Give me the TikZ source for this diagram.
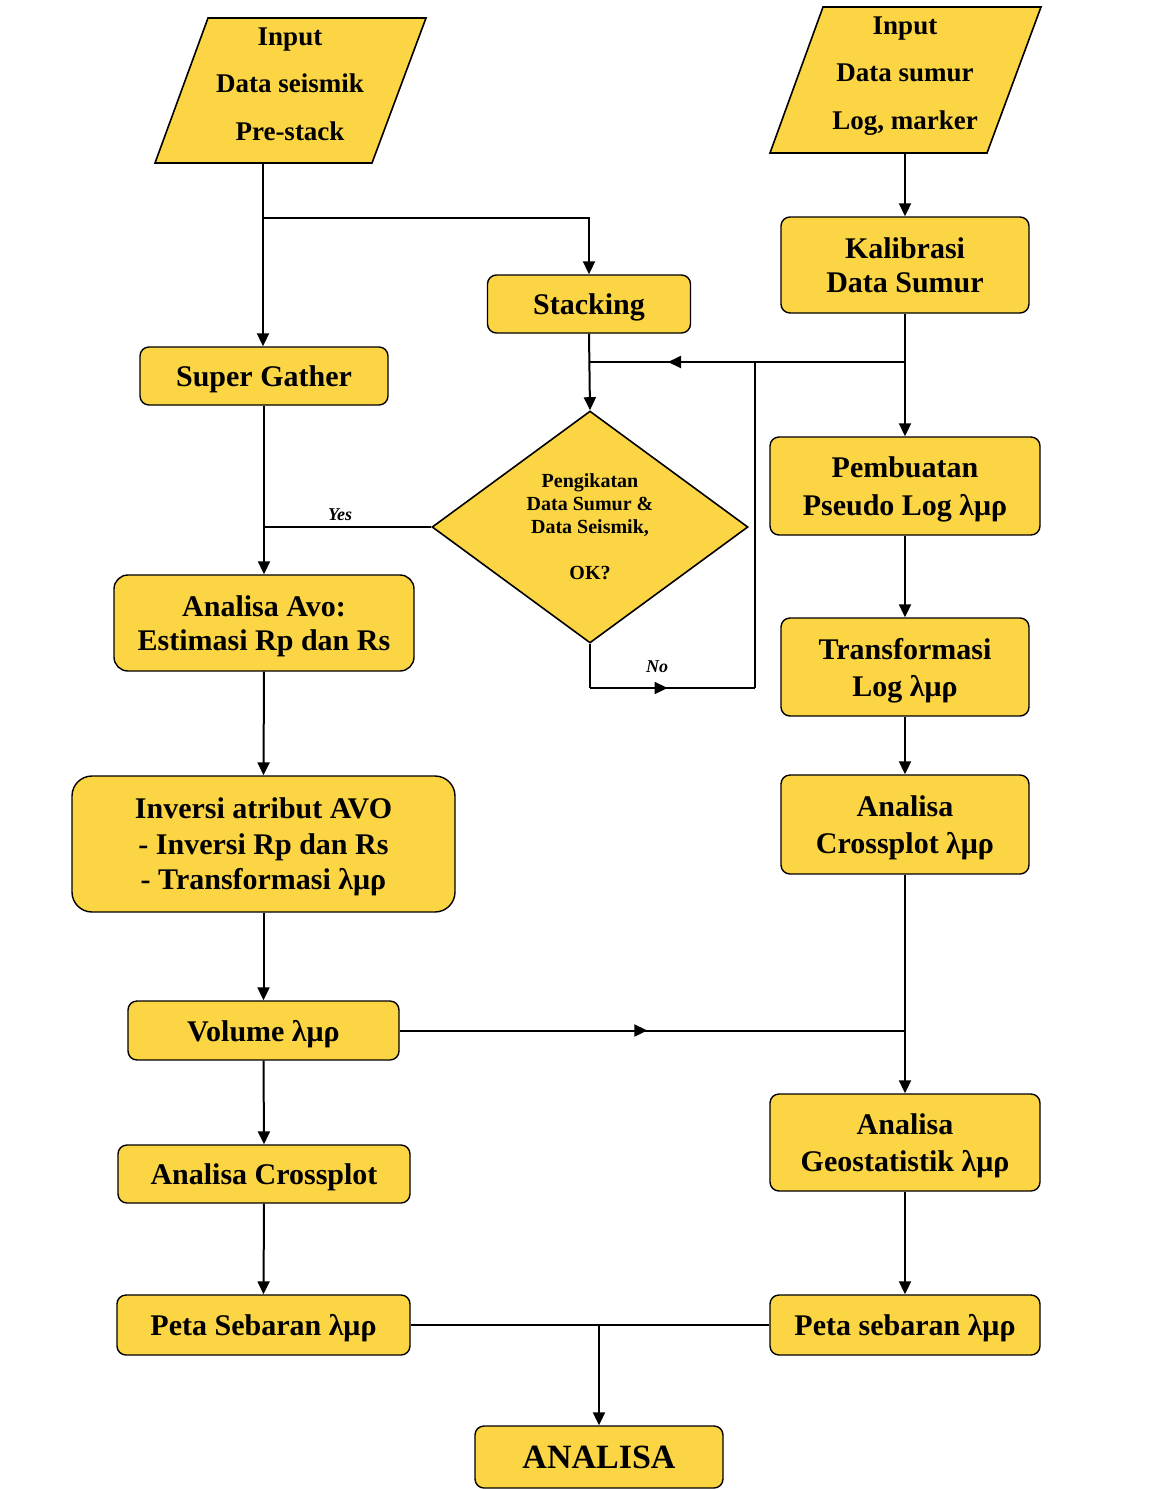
\documentclass[tikz,border=0pt]{standalone}
\usepackage{fontspec}
\setmainfont{Liberation Serif}
\usetikzlibrary{arrows.meta,decorations.markings,shapes.geometric}
\definecolor{boxyellow}{RGB}{252,213,68}
\begin{document}
\begin{tikzpicture}[x=1pt,y=-1pt,
 box/.style={draw=black, line width=1.4pt, fill=boxyellow, rounded corners=9pt, align=center, inner sep=0pt, text depth=0pt, font=\fontsize{30}{36}\selectfont\bfseries},
 ptext/.style={align=center, inner sep=0pt, text depth=0pt, font=\fontsize{27}{47.5}\selectfont\bfseries},
 conn/.style={line width=2pt, -{Triangle[length=13pt,width=12pt]}},
 plain/.style={line width=2pt},
 midarrow/.style={line width=2pt, postaction={decorate}, decoration={markings, mark=at position #1 with {\arrow{Triangle[length=13pt,width=12pt]}}}},
 midarrow/.default=0.5,
 lbl/.style={font=\fontsize{18}{20}\selectfont\bfseries\itshape, inner sep=0pt}
]
\useasboundingbox (0,0) rectangle (1156,1489);

% input parallelograms
\draw[line width=1.6pt, fill=boxyellow] (208,18) -- (426,18) -- (372,163) -- (155,163) -- cycle;
\node[ptext] (in1) at (290,84) {Input\\Data seismik\\Pre-stack};
\draw[line width=1.6pt, fill=boxyellow] (823,7) -- (1041,7) -- (987,153) -- (770,153) -- cycle;
\node[ptext] (in2) at (905,73) {Input\\Data sumur\\Log, marker};
\coordinate (in1b) at (263,163);
\coordinate (in2b) at (905,153);

% boxes
\node[box, minimum width=203pt, minimum height=58pt] (stack) at (589,304) {Stacking};
\node[box, minimum width=248pt, minimum height=58pt] (super) at (264,376) {Super Gather};
\node[box, minimum width=248pt, minimum height=96pt, font=\fontsize{30}{34}\selectfont\bfseries] (kal) at (905,265) {Kalibrasi\\Data Sumur};
\node[box, minimum width=270pt, minimum height=98pt, font=\fontsize{30}{38}\selectfont\bfseries] (pemb) at (905,486) {Pembuatan\\Pseudo Log λμρ};
\node[box, minimum width=248pt, minimum height=98pt, font=\fontsize{30}{37}\selectfont\bfseries] (trans) at (905,667) {Transformasi\\Log λμρ};
\node[box, minimum width=248pt, minimum height=99pt, font=\fontsize{30}{37}\selectfont\bfseries] (acl) at (905,824.5) {Analisa\\Crossplot λμρ};
\node[box, minimum width=270pt, minimum height=97pt, font=\fontsize{30}{37}\selectfont\bfseries] (geo) at (905,1142.5) {Analisa\\Geostatistik λμρ};
\node[box, minimum width=270pt, minimum height=60pt] (petaR) at (905,1325) {Peta sebaran λμρ};
\node[box, minimum width=300pt, minimum height=96pt, rounded corners=14pt, font=\fontsize{30}{34}\selectfont\bfseries] (avo) at (264,623) {Analisa Avo:\\Estimasi Rp dan Rs};
\node[box, minimum width=383pt, minimum height=136pt, rounded corners=20pt, font=\fontsize{30}{35.5}\selectfont\bfseries] (inv) at (263.5,844) {Inversi atribut AVO\\- Inversi Rp dan Rs\\- Transformasi λμρ};
\node[box, minimum width=271pt, minimum height=59pt] (vol) at (263.5,1030.5) {Volume λμρ};
\node[box, minimum width=292pt, minimum height=58pt] (acp) at (264,1174) {Analisa Crossplot};
\node[box, minimum width=293pt, minimum height=60pt] (petaL) at (263.5,1325) {Peta Sebaran λμρ};
\node[box, minimum width=248pt, minimum height=62pt, font=\fontsize{34}{40}\selectfont\bfseries] (analisa) at (599,1457) {ANALISA};

% decision
\node[diamond, draw=black, line width=1.6pt, fill=boxyellow, minimum width=316pt, minimum height=232pt, inner sep=0pt] (dia) at (590,527) {};
\node[align=center, inner sep=0pt, font=\fontsize{20}{23}\selectfont\bfseries] (diatext) at (dia.center) {Pengikatan\\Data Sumur \&\\Data Seismik,\\[23pt]OK?};

% junction coordinates
\coordinate (j1) at (263,218);
\coordinate (j2) at (905,362);
\coordinate (n1) at (590,688);
\coordinate (n2) at (755,688);
\coordinate (j3) at (755,362);
\coordinate (j4) at (599,1325);

% connectors
\draw[conn] (in1b) -- (in1b |- super.north);
\draw[conn] (j1) -| (stack.north);
\draw[conn] (in2b) -- (kal.north);
\draw[conn] (kal.south) -- (pemb.north);
\draw[midarrow=0.75] (j2) -- (stack.south |- j2);
\draw[conn] (stack.south) -- (dia.north);
\draw[plain] (dia.west) -- (in1b |- dia.west);
\draw[conn] (super.south) -- (avo.north);
\node[lbl] (yes) at (340,515) {Yes};
\draw[plain] (dia.south) -- (n1);
\draw[midarrow=0.47] (n1) -- (n2);
\draw[plain] (n2) -- (j3);
\node[lbl] (no) at (657,667) {No};
\draw[conn] (avo.south) -- (inv.north);
\draw[conn] (inv.south) -- (vol.north);
\draw[conn] (vol.south) -- (acp.north);
\draw[conn] (acp.south) -- (petaL.north);
\draw[conn] (pemb.south) -- (trans.north);
\draw[conn] (trans.south) -- (acl.north);
\draw[conn] (acl.south) -- (geo.north);
\draw[conn] (geo.south) -- (petaR.north);
\draw[midarrow=0.49] (vol.east) -- (acl.south |- vol.east);
\draw[plain] (petaL.east) -- (petaR.west);
\draw[conn] (j4) -- (analisa.north);
\end{tikzpicture}
\end{document}
